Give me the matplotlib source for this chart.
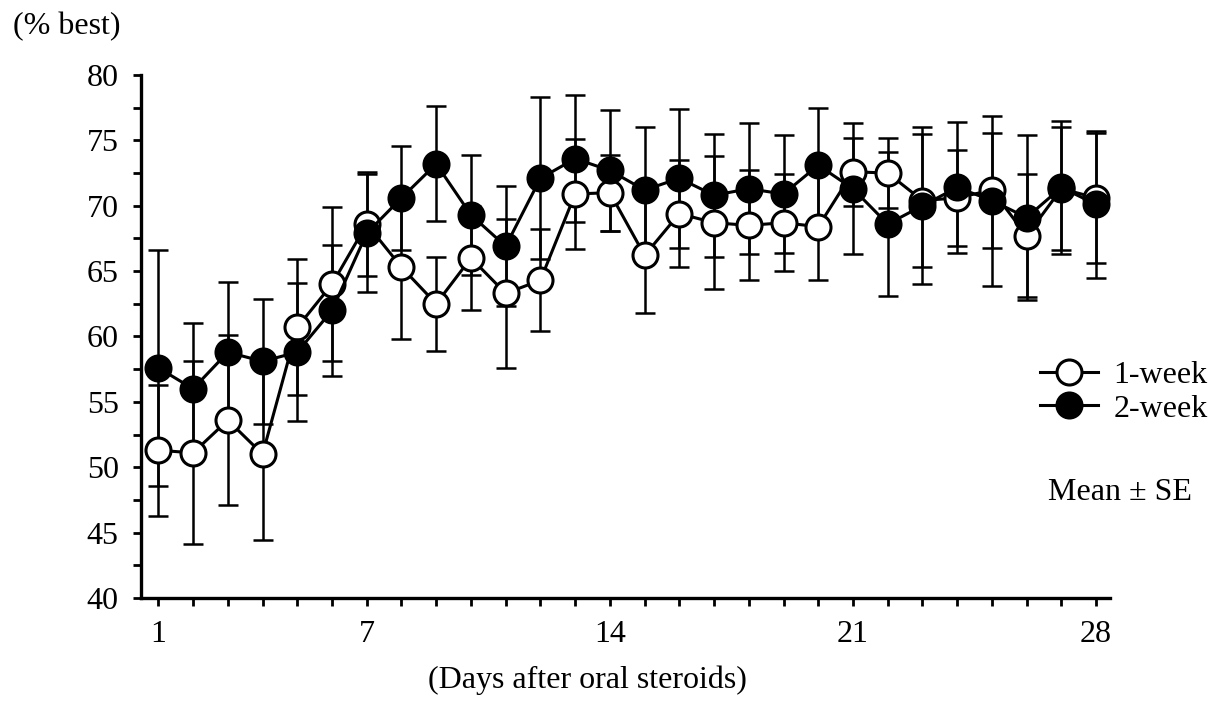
import matplotlib
matplotlib.use("Agg")
import matplotlib.pyplot as plt
from matplotlib.ticker import MultipleLocator, FixedLocator

days = list(range(1, 29))
week1_mean = [51.3, 51.1, 53.6, 51.0, 60.7, 64.0, 68.6, 65.3, 62.5, 66.0, 63.3, 64.3, 70.9, 71.0,
              66.2, 69.4, 68.7, 68.5, 68.7, 68.4, 72.6, 72.5, 70.4, 70.6, 71.2, 67.7, 71.3, 70.6]
week1_se = [5.0, 7.0, 6.5, 6.6, 5.2, 5.9, 4.0, 5.5, 3.6, 4.0, 5.7, 3.9, 4.2, 2.9,
            4.4, 4.1, 5.1, 4.2, 3.7, 4.1, 2.6, 2.7, 5.1, 3.7, 4.4, 4.7, 4.7, 5.0]
week2_mean = [57.6, 56.0, 58.8, 58.1, 58.8, 62.0, 67.9, 70.6, 73.2, 69.3, 66.9, 72.1, 73.6, 72.7,
              71.2, 72.1, 70.8, 71.3, 70.9, 73.1, 71.3, 68.6, 70.0, 71.4, 70.4, 69.1, 71.4, 70.1]
week2_se = [9.0, 5.0, 5.4, 4.8, 5.3, 5.0, 4.5, 4.0, 4.4, 4.6, 4.6, 6.2, 4.85, 4.6,
            4.8, 5.3, 4.7, 5.0, 4.5, 4.4, 5.0, 5.5, 6.0, 5.0, 6.5, 6.3, 5.1, 5.6]
xtick_labels = ["1", "7", "14", "21", "28"]
xtick_pos = [1, 7, 14, 21, 28]
series_names = ["1-week", "2-week"]

plt.rcParams['font.family'] = ['Liberation Serif', 'DejaVu Serif']

W, H = 1217, 703
FS = 23
fig = plt.figure(figsize=(W / 100, H / 100), dpi=100)
ax = fig.add_axes([141 / W, 1 - 598 / H, (1110 - 141) / W, (598 - 75) / H])

eb_kw = dict(fmt='none', ecolor='black', elinewidth=1.8, capsize=7.2, capthick=1.8, zorder=1)
ax.errorbar(days, week1_mean, yerr=week1_se, **eb_kw)
ax.errorbar(days, week2_mean, yerr=week2_se, **eb_kw)

ms = 18
ax.plot(days, week1_mean, '-o', color='black', lw=2.2, ms=ms, mfc='white', mec='black',
        mew=2.2, zorder=3, label=series_names[0])
ax.plot(days, week2_mean, '-o', color='black', lw=2.2, ms=ms, mfc='black', mec='black',
        mew=2.2, zorder=4, label=series_names[1])

ax.set_xlim(0.5, 28.4)
ax.set_ylim(40, 80)
ax.yaxis.set_major_locator(MultipleLocator(5))
ax.yaxis.set_minor_locator(MultipleLocator(2.5))
ax.xaxis.set_major_locator(FixedLocator(xtick_pos))
ax.set_xticklabels(xtick_labels)
ax.xaxis.set_minor_locator(FixedLocator(days))
for s in ['top', 'right']:
    ax.spines[s].set_visible(False)
for s in ['left', 'bottom']:
    ax.spines[s].set_linewidth(2.4)
ax.tick_params(axis='both', which='both', direction='out', width=2, colors='black', length=6)
ax.tick_params(axis='y', which='both', labelsize=FS, pad=10)
ax.tick_params(axis='x', which='both', labelsize=FS, pad=10)

ax.legend(loc='upper left', bbox_to_anchor=(1040 / W, 1 - 361 / H), bbox_transform=fig.transFigure,
          frameon=False, fontsize=FS, handlelength=1.8, handletextpad=0.5, labelspacing=0.12,
          borderpad=0, borderaxespad=0)

fig.text(1048 / W, 1 - 493 / H, "Mean \u00b1 SE", fontsize=FS, va='center', ha='left')
fig.text(13 / W, 1 - 27 / H, "(% best)", fontsize=FS, va='center', ha='left')
fig.text(587 / W, 1 - 680 / H, "(Days after oral steroids)", fontsize=FS, va='center', ha='center')

fig.savefig("out.png", dpi=100)
